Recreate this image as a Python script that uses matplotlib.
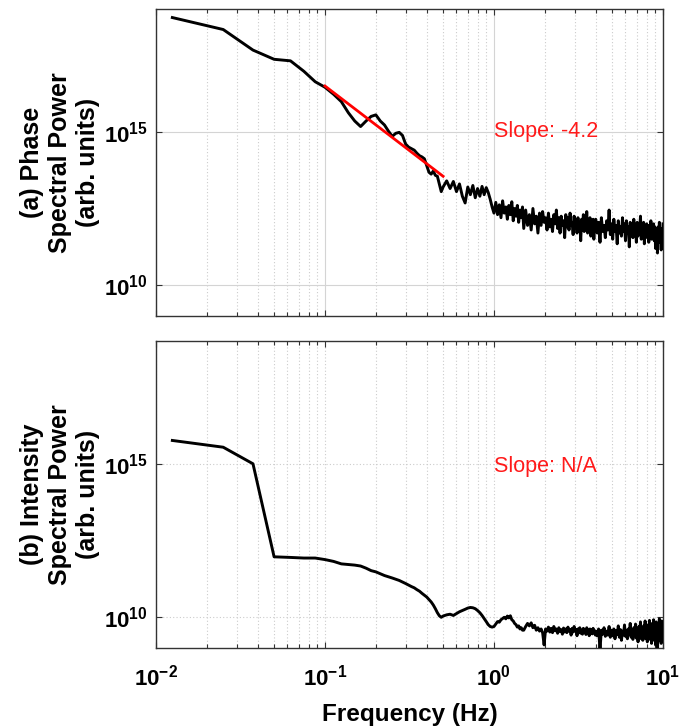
import numpy as np
import matplotlib
matplotlib.use("Agg")
import matplotlib.pyplot as plt
from matplotlib.ticker import LogLocator, NullFormatter, NullLocator

# ---------------- data (log10 of spectral power) ----------------
# FFT bins: 0.0125 Hz resolution at low frequency, coarser sampling of the noisy tail
low_freq = 0.0125 * np.arange(1, 41)
tail_freq = np.concatenate([0.525 + 0.025 * np.arange(39),
                            1.5 + 0.04 * np.arange(63),
                            4.0 + 0.08 * np.arange(76)])

phase_low = [18.72, 18.33, 17.66, 17.36, 17.31, 16.97, 16.63, 16.45, 16.22, 15.98,
             15.62, 15.35, 15.17, 15.35, 15.50, 15.55, 15.35, 15.22, 15.02, 14.85,
             14.95, 14.98, 14.88, 14.60, 14.50, 14.45, 14.40, 14.30, 14.22, 14.18,
             14.12, 13.90, 13.68, 13.62, 13.72, 13.58, 13.55, 13.30, 13.05, 13.20]
phase_tail = [13.40, 13.15, 13.38, 13.05, 13.30, 12.90, 12.68, 13.20, 12.95, 13.25,
              12.85, 13.15, 12.90, 13.22, 12.95, 13.18, 13.02, 12.80, 12.55, 12.35,
              12.70, 12.30, 12.62, 12.20, 12.75, 12.35, 12.55, 12.15, 12.60, 12.30,
              12.72, 12.10, 12.50, 12.25, 12.60, 12.05, 12.45, 12.20, 12.55,
              11.85, 12.45, 11.95, 12.30, 11.80, 12.50, 12.00, 12.25, 11.70, 12.35,
              11.95, 12.40, 12.05, 12.20, 11.80, 12.35, 11.90, 12.15, 11.75, 12.30,
              12.00, 12.45, 11.85, 12.20, 11.70, 12.25, 11.95, 12.10, 11.55, 12.30,
              11.90, 12.20, 11.80, 12.35, 11.95, 12.05, 11.65, 12.25, 11.85, 12.15,
              11.70, 12.20, 11.90, 12.05, 11.45, 12.15, 11.80, 12.30, 11.75, 12.05,
              11.85, 12.40, 11.70, 12.10, 11.90, 12.20, 11.60, 12.05, 11.85, 12.15,
              11.50, 12.10, 11.80,
              12.15, 11.70, 12.05, 11.40, 12.20, 11.75, 11.95, 11.55, 12.10, 11.80,
              12.45, 11.65, 12.00, 11.50, 12.15, 11.75, 11.95, 11.35, 12.10, 11.70,
              11.90, 11.60, 12.20, 11.75, 12.00, 11.45, 12.10, 11.70, 11.90, 11.25,
              12.05, 11.65, 11.95, 11.55, 12.15, 11.70, 11.85, 11.40, 12.05, 11.60,
              11.95, 11.75, 12.25, 11.50, 11.90, 11.65, 12.05, 11.35, 11.85, 11.70,
              12.00, 11.55, 11.95, 11.40, 11.80, 11.60, 12.10, 11.50, 11.85, 11.65,
              12.00, 11.45, 11.90, 11.20, 11.80, 11.55, 11.05, 11.90, 11.50, 12.05,
              11.40, 11.85, 11.15, 11.75, 11.45, 12.00]

intensity_low = [15.76, 15.54, 15.00, 11.97, 11.95, 11.93, 11.93, 11.88, 11.82, 11.74,
                 11.72, 11.70, 11.67, 11.60, 11.52, 11.48, 11.42, 11.36, 11.32, 11.28,
                 11.24, 11.20, 11.15, 11.10, 11.05, 11.00, 10.96, 10.90, 10.85, 10.78,
                 10.72, 10.66, 10.58, 10.50, 10.40, 10.28, 10.15, 10.05, 10.00, 10.04]
intensity_tail = [10.08, 10.10, 10.06, 10.12, 10.18, 10.22, 10.26, 10.30, 10.32, 10.31,
                  10.28, 10.22, 10.15, 10.06, 9.96, 9.86, 9.76, 9.70, 9.68,
                  9.70, 9.78, 9.86, 9.84, 9.92, 9.96, 10.00, 9.95, 10.04, 9.98,
                  10.05, 9.92, 9.88, 9.80, 9.76, 9.68, 9.72, 9.62, 9.66, 9.58,
                  9.58, 9.70, 9.80, 9.72, 9.82, 9.66, 9.74, 9.58, 9.66, 9.55,
                  9.62, 9.50, 9.10, 9.62, 9.55, 9.68, 9.52, 9.64, 9.50, 9.70,
                  9.56, 9.62, 9.48, 9.66, 9.54, 9.60, 9.45, 9.65, 9.52, 9.62,
                  9.50, 9.68, 9.55, 9.60, 9.42, 9.64, 9.52, 9.70, 9.55, 9.60,
                  9.40, 9.62, 9.50, 9.66, 9.48, 9.58, 9.45, 9.64, 9.52, 9.60,
                  9.44, 9.66, 9.50, 9.58, 9.40, 9.62, 9.48, 9.60, 9.46, 9.64,
                  9.50, 9.56, 9.42,
                  9.55, 9.40, 9.62, 8.95, 9.58, 9.45, 9.66, 9.38, 9.55, 9.42,
                  9.70, 9.35, 9.58, 9.40, 9.62, 9.30, 9.56, 9.44, 9.72, 9.35,
                  9.60, 9.25, 9.55, 9.42, 9.75, 9.38, 9.58, 9.30, 9.62, 9.45,
                  9.80, 9.35, 9.60, 9.28, 9.66, 9.40, 9.78, 9.32, 9.60, 9.20,
                  9.70, 9.42, 9.85, 9.30, 9.62, 9.25, 9.72, 9.38, 9.88, 9.30,
                  9.65, 9.20, 9.75, 9.35, 9.90, 9.28, 9.68, 9.15, 9.80, 9.40,
                  9.92, 9.25, 9.70, 9.10, 9.85, 9.35, 8.85, 9.78, 9.30, 9.95,
                  9.25, 9.72, 9.15, 9.88, 9.40, 9.75]

# power-law fit over 0.1-0.5 Hz (endpoints of the red line)
fit_freq = [0.1, 0.5]
fit_logp = [16.49, 13.55]

panel_labels = ["(a) Phase\nSpectral Power\n(arb. units)",
                "(b) Intensity\nSpectral Power\n(arb. units)"]
slope_texts = ["Slope: -4.2", "Slope: N/A"]
xtick_vals = [0.01, 0.1, 1, 10]
xtick_labels = [r"$\mathbf{10^{-2}}$", r"$\mathbf{10^{-1}}$", r"$\mathbf{10^{0}}$", r"$\mathbf{10^{1}}$"]
ytick_vals = [1e10, 1e15]
ytick_labels = [r"$\mathbf{10^{10}}$", r"$\mathbf{10^{15}}$"]

# ---------------- fonts ----------------
hfont = "Liberation Sans"
tick_fs, xlab_fs, slope_fs, ylab_fs = 16, 17.5, 15.5, 18
plt.rcParams["font.family"] = [hfont, "DejaVu Sans"]
plt.rcParams["mathtext.fontset"] = "custom"
plt.rcParams["mathtext.bf"] = hfont + ":bold"
plt.rcParams["mathtext.rm"] = hfont + ":bold"

fig = plt.figure(figsize=(6.82, 7.28), dpi=100)
ax1 = fig.add_axes([0.2287, 0.566, 0.7434, 0.4217])
ax2 = fig.add_axes([0.2287, 0.1099, 0.7434, 0.4217])

freq = np.concatenate([low_freq, tail_freq])
series = [np.concatenate([phase_low, phase_tail]), np.concatenate([intensity_low, intensity_tail])]

for i, ax in enumerate([ax1, ax2]):
    ax.plot(freq, 10.0 ** series[i], color="black", lw=2.1, zorder=3)
    ax.set_xscale("log")
    ax.set_yscale("log")
    ax.set_xlim(0.01, 10)
    ax.set_ylim(1e9, 1e19)
    ax.set_yticks(ytick_vals, labels=ytick_labels, fontsize=tick_fs)
    ax.yaxis.set_minor_locator(NullLocator())
    ax.set_xticks(xtick_vals)
    ax.xaxis.set_minor_locator(LogLocator(base=10, subs=np.arange(2, 10), numticks=30))
    ax.xaxis.set_minor_formatter(NullFormatter())
    ax.tick_params(which="both", direction="in", top=True, right=True,
                   color="#333333", width=0.8)
    ax.tick_params(which="major", length=4)
    ax.tick_params(which="minor", length=3)
    ax.tick_params(axis="y", which="major", pad=6)
    ax.tick_params(axis="x", which="major", pad=12)
    for s in ax.spines.values():
        s.set_color("#333333")
        s.set_linewidth(1.0)
    if i == 0:
        ax.grid(True, which="major", color="#d4d4d4", lw=0.8, ls="-")
    else:
        ax.grid(True, which="major", color="#cccccc", lw=0.8, ls=(0, (1, 2)))
    ax.grid(True, which="minor", axis="x", color="#cccccc", lw=0.8, ls=(0, (1, 2)))
    ax.set_axisbelow(True)
    ax.set_ylabel(panel_labels[i], fontsize=ylab_fs, fontweight="bold",
                  linespacing=1.2, labelpad=3)
    ax.text(1.0, 1e15 if i == 0 else 8e14, slope_texts[i], color="#ff1a1a",
            fontsize=slope_fs, ha="left", va="center", zorder=5)

ax1.plot(fit_freq, 10.0 ** np.array(fit_logp), color="red", lw=2.0, zorder=4)
ax1.set_xticklabels([])
ax2.set_xticklabels(xtick_labels, fontsize=tick_fs)
ax2.set_xlabel("Frequency (Hz)", fontsize=xlab_fs, fontweight="bold", labelpad=9)

fig.savefig("out.png", dpi=100)
